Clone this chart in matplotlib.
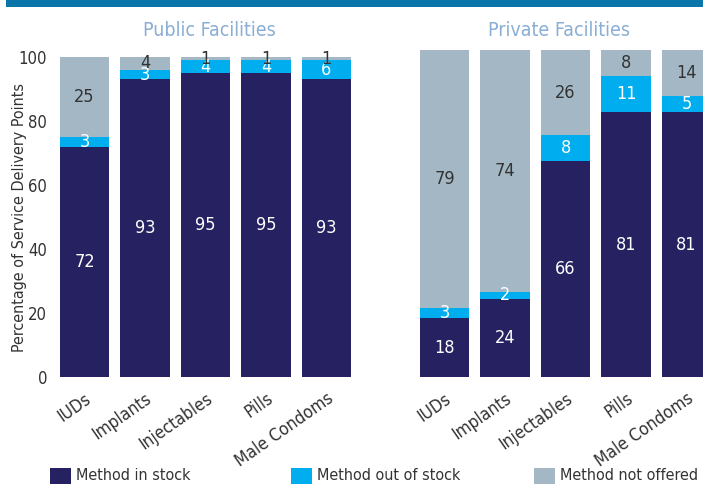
import matplotlib.pyplot as plt
from matplotlib.patches import Rectangle

plt.rcParams['font.family'] = ['DejaVu Sans']
plt.rcParams['font.stretch'] = 'condensed'

methods = ['IUDs', 'Implants', 'Injectables', 'Pills', 'Male Condoms']

pub_in = [72, 93, 95, 95, 93]
pub_out = [3, 3, 4, 4, 6]
pub_not = [25, 4, 1, 1, 1]

priv_in = [18, 24, 66, 81, 81]
priv_out = [3, 2, 8, 11, 5]
priv_not = [79, 74, 26, 8, 14]

series_names = ['Method in stock', 'Method out of stock', 'Method not offered']
colors = ['#262262', '#00aeef', '#a3b8c4']
label_colors = ['white', 'white', '#333333']

W, H = 703, 484
fig = plt.figure(figsize=(W / 100, H / 100), dpi=100)

# blue band on top
fig.add_artist(Rectangle((6 / W, 1 - 7 / H), 1, 7 / H, transform=fig.transFigure,
                         color='#0a75a8', lw=0))

ax1 = fig.add_axes([54.25 / W, 107 / H, 302.5 / W, 320 / H])
ax2 = fig.add_axes([414.25 / W, 107 / H, 302.5 / W, 327 / H])


def draw(ax, data):
    x = range(len(methods))
    bottom = [0] * len(methods)
    for vals, c, lc in zip(data, colors, label_colors):
        ax.bar(x, vals, 0.81, bottom=bottom, color=c, lw=0)
        for i, v in enumerate(vals):
            ax.text(i, bottom[i] + v / 2, str(v), ha='center', va='center',
                    color=lc, fontsize=13)
        bottom = [b + v for b, v in zip(bottom, vals)]
    ax.set_xlim(-0.5, len(methods) - 0.5)
    ax.set_ylim(0, 100)
    for s in ax.spines.values():
        s.set_visible(False)
    ax.set_xticks(list(x))
    ax.set_xticklabels(methods, rotation=35, ha='right', rotation_mode='anchor',
                       fontsize=12.5, color='#333333')
    ax.tick_params(axis='x', length=0, pad=9)


draw(ax1, [pub_in, pub_out, pub_not])
draw(ax2, [priv_in, priv_out, priv_not])

fig.text(209 / W, 1 - 30 / H, 'Public Facilities', ha='center', va='center',
         color='#8aaed4', fontsize=14)
fig.text(559 / W, 1 - 30 / H, 'Private Facilities', ha='center', va='center',
         color='#8aaed4', fontsize=14)

ax1.set_yticks([0, 20, 40, 60, 80, 100])
ax1.tick_params(axis='y', length=0, pad=5, labelsize=12, labelcolor='#333333')
ax2.set_yticks([])
fig.text(20 / W, 1 - 217 / H, 'Percentage of Service Delivery Points', rotation=90,
         ha='center', va='center', fontsize=11.5, color='#333333')

# legend along the bottom
leg_x = [50, 291, 534]
for lx, name, c in zip(leg_x, series_names, colors):
    fig.add_artist(Rectangle((lx / W, 0), 21 / W, 16 / H, transform=fig.transFigure,
                             color=c, lw=0))
    fig.text((lx + 26) / W, 8 / H, name, fontsize=11.5, color='#333333', va='center')

fig.savefig('out.png', dpi=100)
